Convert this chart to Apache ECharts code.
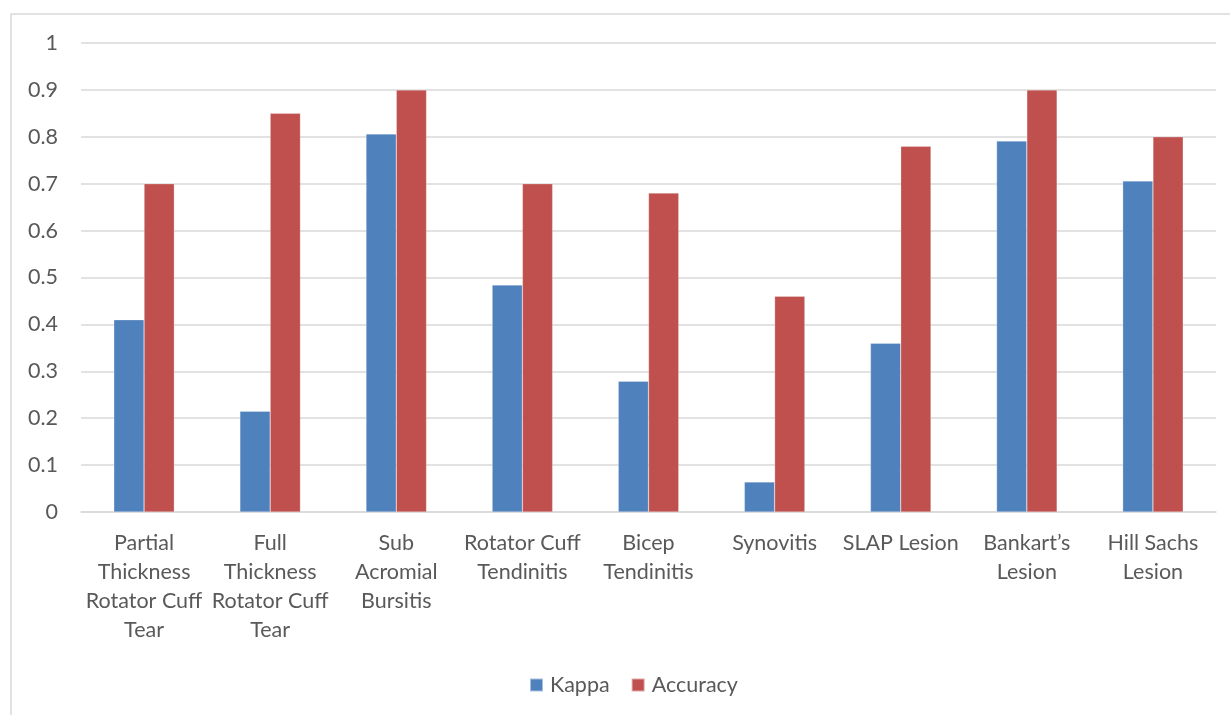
<!DOCTYPE html>
<html>
<head>
<meta charset="utf-8">
<script src="https://cdn.jsdelivr.net/npm/echarts@6/dist/echarts.min.js"></script>
<style>
  html, body { margin: 0; padding: 0; background: #fff; }
  #chart { width: 1230px; height: 715px; }
</style>
</head>
<body>
<div id="chart"></div>
<script>
// Diagnostic agreement per shoulder pathology
const categories = [
  'Partial\nThickness\nRotator Cuff\nTear',
  'Full\nThickness\nRotator Cuff\nTear',
  'Sub\nAcromial\nBursitis',
  'Rotator Cuff\nTendinitis',
  'Bicep\nTendinitis',
  'Synovitis',
  'SLAP Lesion',
  'Bankart\u2019s\nLesion',
  'Hill Sachs\nLesion'
];
const kappa = [0.41, 0.215, 0.806, 0.484, 0.279, 0.064, 0.36, 0.791, 0.706];
const accuracy = [0.70, 0.85, 0.90, 0.70, 0.68, 0.46, 0.78, 0.90, 0.80];
const yTicks = { min: 0, max: 1, interval: 0.1 };

const FONT = 'Lato';
const FS = 21.5;
const TEXT = '#595959';
const GRID = '#d9d9d9';

const chart = echarts.init(document.getElementById('chart'), null, { renderer: 'canvas' });
chart.setOption({
  animation: false,
  backgroundColor: '#fff',
  textStyle: { fontFamily: FONT },
  graphic: [{
    type: 'rect',
    shape: { x: 11, y: 14, width: 1400, height: 900 },
    style: { fill: 'none', stroke: GRID, lineWidth: 1.5 },
    silent: true,
    z: -10
  }],
  grid: { left: 81, right: 14, top: 43, bottom: 203, containLabel: false },
  legend: {
    data: ['Kappa', 'Accuracy'],
    left: 529,
    top: 674,
    padding: 0,
    itemWidth: 13,
    itemHeight: 13,
    itemGap: 21,
    icon: 'rect',
    textStyle: { fontFamily: FONT, fontSize: FS, color: TEXT, padding: [0, 0, 0, 2] }
  },
  xAxis: {
    type: 'category',
    data: categories,
    axisLine: { show: true, lineStyle: { color: GRID, width: 1.5 } },
    axisTick: { show: false },
    axisLabel: {
      interval: 0,
      margin: 17,
      fontFamily: FONT,
      fontSize: FS,
      lineHeight: 29,
      color: TEXT,
      align: 'center'
    }
  },
  yAxis: {
    type: 'value',
    min: yTicks.min,
    max: yTicks.max,
    interval: yTicks.interval,
    axisLine: { show: false },
    axisTick: { show: false },
    splitLine: { lineStyle: { color: GRID, width: 1.5 } },
    axisLabel: {
      margin: 23,
      fontFamily: FONT,
      fontSize: FS,
      color: TEXT
    }
  },
  series: [
    {
      name: 'Kappa',
      type: 'bar',
      data: kappa,
      barGap: '0%',
      barCategoryGap: '52%',
      itemStyle: { color: '#4F81BD', borderColor: 'rgba(255,255,255,0.5)', borderWidth: 0.5 }
    },
    {
      name: 'Accuracy',
      type: 'bar',
      data: accuracy,
      barGap: '0%',
      barCategoryGap: '52%',
      itemStyle: { color: '#C0504D', borderColor: 'rgba(255,255,255,0.5)', borderWidth: 0.5 }
    }
  ]
});
</script>
</body>
</html>
